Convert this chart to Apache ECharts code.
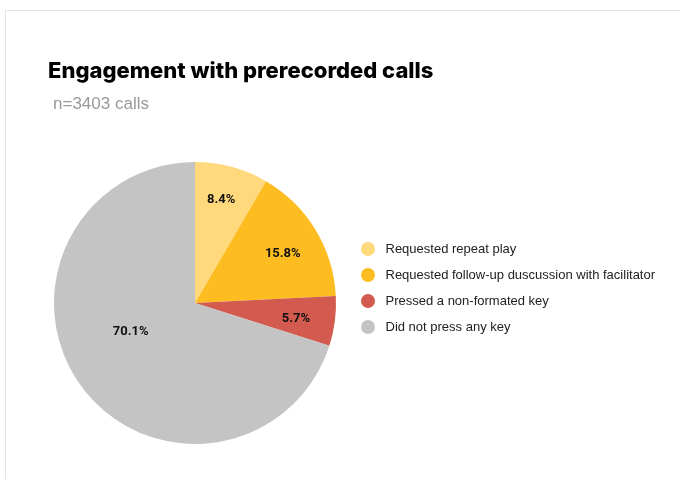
<!DOCTYPE html>
<html>
<head>
<meta charset="utf-8">
<script src="https://cdn.jsdelivr.net/npm/echarts@6/dist/echarts.min.js"></script>
<style>
html,body{margin:0;padding:0;background:#fff;}
#frame{position:absolute;left:5px;top:10px;width:675px;height:469px;border-top:1px solid #e4e4e4;border-left:1px solid #e4e4e4;}
#chart{position:absolute;left:0;top:0;width:680px;height:479px;}
</style>
</head>
<body>
<div id="frame"></div>
<div id="chart"></div>
<script>
const categories = ["Requested repeat play", "Requested follow-up duscussion with facilitator", "Pressed a non-formated key", "Did not press any key"];
const values = [8.4, 15.8, 5.7, 70.1];
const colors = ["#FFD97C", "#FDBD21", "#D35A4E", "#C4C4C4"];
const labelOffsets = [[7, -32], [25, -11], [28, 6], [-5, -15]];

const chart = echarts.init(document.getElementById('chart'), null, {renderer: 'canvas'});
chart.setOption({
  animation: false,
  title: [
    {text: 'Engagement with prerecorded calls', left: 48, top: 60, padding: 0,
     textStyle: {fontFamily: 'Inter', fontWeight: 800, fontSize: 22, color: '#000'}},
    {text: 'n=3403 calls', left: 53, top: 96, padding: 0,
     textStyle: {fontFamily: 'Liberation Sans', fontWeight: 'normal', fontSize: 17, color: '#999'}}
  ],
  legend: {
    orient: 'vertical', left: 356, top: 237,
    icon: 'circle', itemWidth: 25, itemHeight: 14, itemGap: 12,
    textStyle: {fontFamily: 'Liberation Sans', fontSize: 13, color: '#222'},
    data: categories
  },
  series: [{
    type: 'pie',
    center: [195, 303],
    radius: [0, 141],
    startAngle: 90,
    clockwise: true,
    avoidLabelOverlap: false,
    label: {
      show: true, position: 'inside',
      formatter: p => p.value.toFixed(1) + '%',
      fontFamily: 'Roboto', fontWeight: 'bold', fontSize: 13, color: '#111'
    },
    labelLine: {show: false},
    emphasis: {disabled: true},
    data: categories.map((c, i) => ({
      name: c, value: values[i],
      itemStyle: {color: colors[i]},
      label: {offset: labelOffsets[i]}
    }))
  }]
});
</script>
</body>
</html>
